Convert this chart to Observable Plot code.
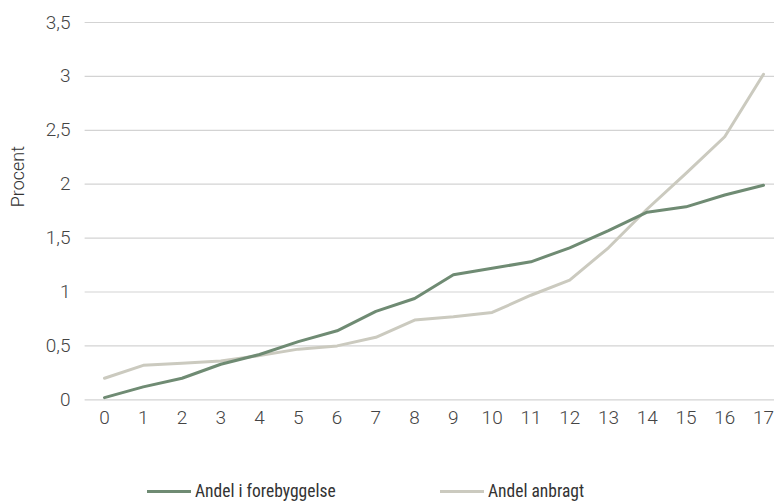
<!DOCTYPE html>
<html>
<head>
<meta charset="utf-8">
<script src="https://cdn.jsdelivr.net/npm/d3@7"></script>
<script src="https://cdn.jsdelivr.net/npm/@observablehq/plot@0.6"></script>
<style>
  html, body { margin: 0; padding: 0; background: #fff; }
  body { width: 774px; height: 503px; overflow: hidden; font-family: Roboto, "Noto Sans", sans-serif; }
  #legend { position: relative; height: 63px; font-family: "Liberation Sans Narrow", "Roboto Condensed", Roboto, sans-serif; font-size: 17.5px; color: #333; }
  .item { position: absolute; top: 41px; display: flex; align-items: center; }
  .swatch { width: 44px; height: 3px; margin-right: 4px; }
</style>
</head>
<body>
<div id="chart"></div>
<div id="legend"></div>
<script>
const ages = [0,1,2,3,4,5,6,7,8,9,10,11,12,13,14,15,16,17];
const forebyggelse = [0.02,0.12,0.20,0.33,0.42,0.54,0.64,0.82,0.94,1.16,1.22,1.28,1.41,1.57,1.74,1.79,1.90,1.99];
const anbragt = [0.20,0.32,0.34,0.36,0.41,0.47,0.50,0.58,0.74,0.77,0.81,0.97,1.11,1.41,1.77,2.10,2.44,3.02];
const yTicks = [0,0.5,1,1.5,2,2.5,3,3.5];
const seriesNames = ["Andel i forebyggelse", "Andel anbragt"];
const colors = ["#6f8b73", "#cbcabf"];

const data = [];
ages.forEach((a, i) => {
  data.push({age: a, value: forebyggelse[i], series: seriesNames[0]});
  data.push({age: a, value: anbragt[i], series: seriesNames[1]});
});

const fmt = d => String(d).replace(".", ",");

const plot = Plot.plot({
  width: 774,
  height: 440,
  marginLeft: 85,
  marginTop: 22,
  marginBottom: 40.7,
  marginRight: 0,
  style: {fontFamily: "Roboto, sans-serif", fontSize: "19px", color: "#444", background: "#fff"},
  x: {domain: [0, 17], range: [104, 763], axis: null},
  y: {domain: [0, 3.5], axis: null},
  color: {domain: seriesNames, range: colors},
  marks: [
    Plot.ruleY(yTicks, {x1: -0.5, x2: 17.5, stroke: "#d3d3d3", strokeWidth: 1.2}),
    Plot.axisX(ages, {tickSize: 0, tickPadding: 11, tickFormat: d => String(d), fontSize: 19, fontWeight: 300, fill: "#444", label: null}),
    Plot.axisY(yTicks, {tickSize: 0, tickPadding: 15, tickFormat: fmt, fontSize: 19, fontWeight: 300, fill: "#444", label: null}),
    Plot.lineY(data.filter(d => d.series === seriesNames[1]), {x: "age", y: "value", stroke: colors[1], strokeWidth: 3}),
    Plot.lineY(data.filter(d => d.series === seriesNames[0]), {x: "age", y: "value", stroke: colors[0], strokeWidth: 3}),
    Plot.text(["Procent"], {frameAnchor: "left", y: [2.07], dx: -67, rotate: -90, textAnchor: "middle", fill: "#333", fontSize: 18, fontWeight: 300})
  ]
});
document.getElementById("chart").appendChild(plot);

const legend = document.getElementById("legend");
const lefts = [147, 440];
seriesNames.forEach((name, i) => {
  const item = document.createElement("div");
  item.className = "item";
  item.style.left = lefts[i] + "px";
  const sw = document.createElement("div");
  sw.className = "swatch";
  sw.style.background = colors[i];
  const t = document.createElement("span");
  t.textContent = name;
  item.appendChild(sw);
  item.appendChild(t);
  legend.appendChild(item);
});
</script>
</body>
</html>
